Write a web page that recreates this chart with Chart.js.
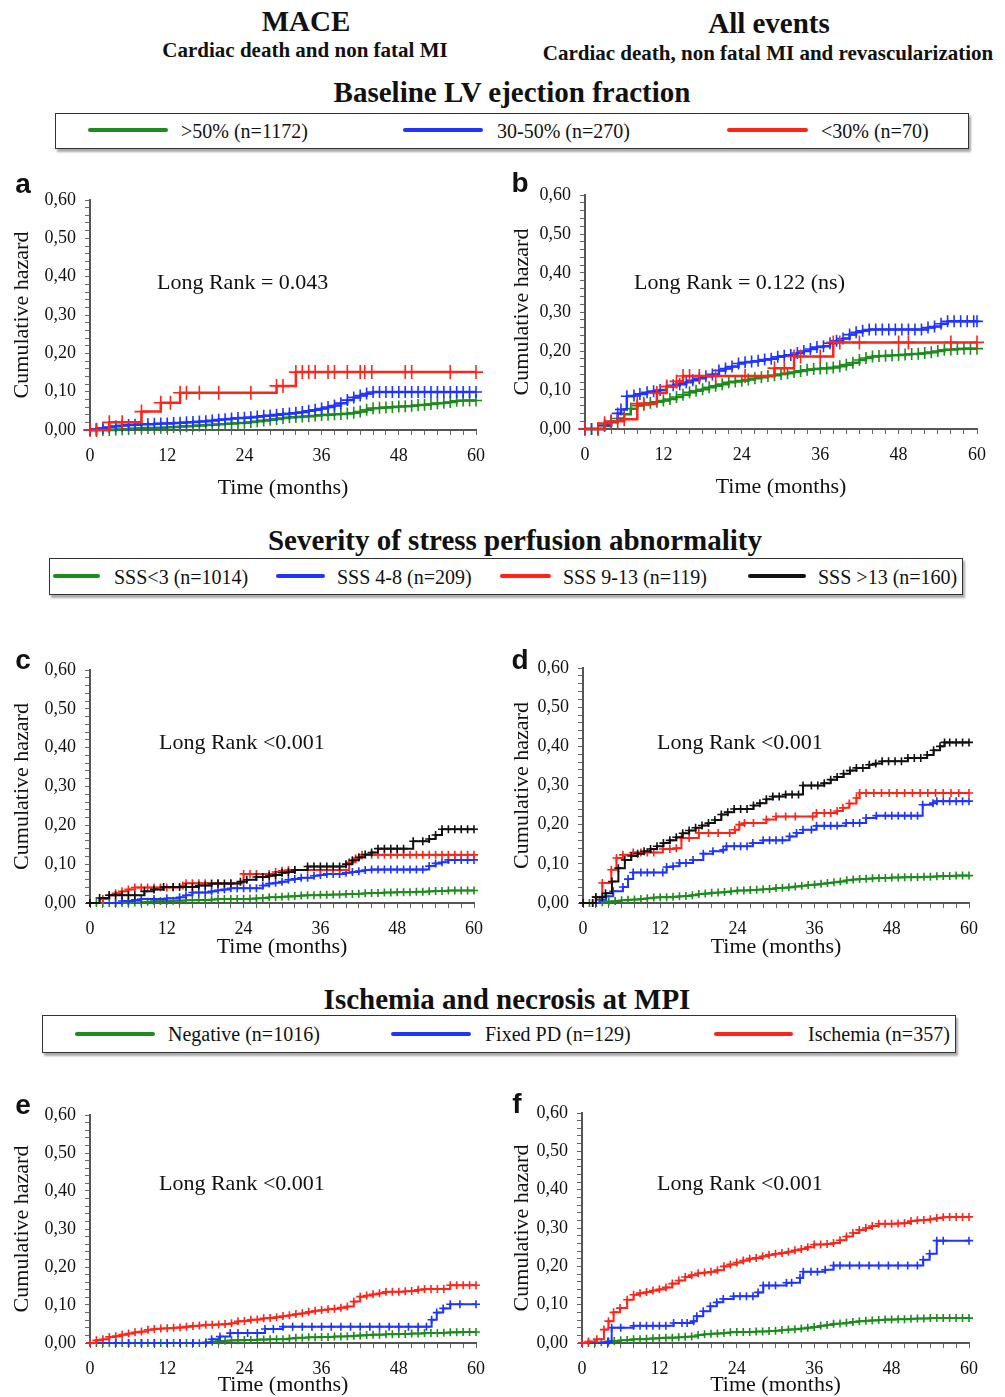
<!DOCTYPE html>
<html>
<head>
<meta charset="utf-8">
<script src="https://cdn.jsdelivr.net/npm/chart.js@4.4.1/dist/chart.umd.min.js"></script>
<style>
  body { margin: 0; background: #fff; }
  #page { position: relative; width: 1005px; height: 1397px; overflow: hidden; font-family: "Liberation Serif", "Times New Roman", serif; color: #111; }
  .t { position: absolute; white-space: nowrap; transform: translate(-50%, -50%); font-weight: bold; }
  .box { position: absolute; border: 1.5px solid #333; box-shadow: 2px 3px 2px #aaa; background: #fff; }
  .key { position: absolute; height: 4px; border-radius: 2px; }
  .ktext { position: absolute; font-size: 20px; transform: translateY(-50%); white-space: nowrap; }
  .letter { position: absolute; font-family: "Liberation Sans", Arial, sans-serif; font-weight: bold; font-size: 28px; transform: translate(-50%, -50%); }
  .rank { position: absolute; font-size: 22px; transform: translateY(-50%); white-space: nowrap; }
  canvas { position: absolute; }
</style>
</head>
<body>
<div id="page">
  <div class="t" style="left:306px;top:21px;font-size:29px">MACE</div>
  <div class="t" style="left:769px;top:23px;font-size:29px">All events</div>
  <div class="t" style="left:305px;top:50px;font-size:21px">Cardiac death and non fatal MI</div>
  <div class="t" style="left:768px;top:53px;font-size:21px">Cardiac death, non fatal MI and revascularization</div>

  <div class="t" style="left:512px;top:92px;font-size:29px">Baseline LV ejection fraction</div>
  <div class="box" style="left:55px;top:113px;width:912px;height:34px"></div>
  <div class="key" style="left:88px;top:128px;width:80px;background:#1c8c1c"></div>
  <div class="ktext" style="left:181px;top:131px">&gt;50% (n=1172)</div>
  <div class="key" style="left:403px;top:128px;width:80px;background:#1f35ff"></div>
  <div class="ktext" style="left:497px;top:131px">30-50% (n=270)</div>
  <div class="key" style="left:727px;top:128px;width:81px;background:#ff2418"></div>
  <div class="ktext" style="left:821px;top:131px">&lt;30% (n=70)</div>

  <div class="t" style="left:515px;top:540px;font-size:29px">Severity of stress perfusion abnormality</div>
  <div class="box" style="left:49px;top:558px;width:912px;height:35px"></div>
  <div class="key" style="left:53px;top:574px;width:47px;background:#1c8c1c"></div>
  <div class="ktext" style="left:114px;top:577px">SSS&lt;3 (n=1014)</div>
  <div class="key" style="left:276px;top:574px;width:49px;background:#1f35ff"></div>
  <div class="ktext" style="left:337px;top:577px">SSS 4-8 (n=209)</div>
  <div class="key" style="left:500px;top:574px;width:51px;background:#ff2418"></div>
  <div class="ktext" style="left:563px;top:577px">SSS 9-13 (n=119)</div>
  <div class="key" style="left:748px;top:574px;width:58px;background:#111"></div>
  <div class="ktext" style="left:818px;top:577px">SSS &gt;13 (n=160)</div>

  <div class="t" style="left:507px;top:999px;font-size:29px">Ischemia and necrosis at MPI</div>
  <div class="box" style="left:42px;top:1015px;width:912px;height:36px"></div>
  <div class="key" style="left:75px;top:1032px;width:80px;background:#1c8c1c"></div>
  <div class="ktext" style="left:168px;top:1034px">Negative (n=1016)</div>
  <div class="key" style="left:391px;top:1032px;width:80px;background:#1f35ff"></div>
  <div class="ktext" style="left:485px;top:1034px">Fixed PD (n=129)</div>
  <div class="key" style="left:714px;top:1032px;width:79px;background:#ff2418"></div>
  <div class="ktext" style="left:808px;top:1034px">Ischemia (n=357)</div>

  <canvas id="chartA" width="500" height="330" style="left:0;top:170px"></canvas>
  <canvas id="chartB" width="505" height="334" style="left:500px;top:165px"></canvas>
  <canvas id="chartC" width="500" height="319" style="left:0;top:640px"></canvas>
  <canvas id="chartD" width="505" height="321" style="left:500px;top:638px"></canvas>
  <canvas id="chartE" width="500" height="312" style="left:0;top:1085px"></canvas>
  <canvas id="chartF" width="505" height="314" style="left:500px;top:1083px"></canvas>

  <div class="letter" style="left:23px;top:184px">a</div>
  <div class="letter" style="left:520px;top:183px">b</div>
  <div class="letter" style="left:23px;top:660px">c</div>
  <div class="letter" style="left:520px;top:660px">d</div>
  <div class="letter" style="left:23px;top:1105px">e</div>
  <div class="letter" style="left:517px;top:1104px">f</div>

  <div class="rank" style="left:157px;top:282px">Long Rank = 0.043</div>
  <div class="rank" style="left:634px;top:282px">Long Rank = 0.122 (ns)</div>
  <div class="rank" style="left:159px;top:742px">Long Rank &lt;0.001</div>
  <div class="rank" style="left:657px;top:742px">Long Rank &lt;0.001</div>
  <div class="rank" style="left:159px;top:1183px">Long Rank &lt;0.001</div>
  <div class="rank" style="left:657px;top:1183px">Long Rank &lt;0.001</div>
</div>

<script>
// tick labels
const xTickLabels = [0, 12, 24, 36, 48, 60];
const yTickLabels = ["0,00", "0,10", "0,20", "0,30", "0,40", "0,50", "0,60"];

// (a) MACE by baseline LVEF  -- [month, cumulative hazard]
const aRed = [[0,0],[1,0],[3,0.02],[5,0.02],[8,0.048],[11,0.071],[12.5,0.071],[14,0.097],[15,0.097],[17,0.097],[20,0.097],[25,0.097],[29,0.115],[30,0.115],[32,0.151],[33,0.151],[34,0.151],[35,0.151],[37,0.151],[38,0.151],[40,0.151],[42,0.151],[42.7,0.151],[43.8,0.151],[49,0.151],[50,0.151],[56,0.151],[60,0.151]];
const aBlue = [[0,0],[1,0.003],[2,0.005],[3,0.008],[4,0.01],[5,0.012],[6,0.013],[7,0.014],[8,0.015],[9,0.015],[10,0.016],[11,0.017],[12,0.017],[13,0.018],[14,0.019],[15,0.02],[16,0.021],[17,0.022],[18,0.023],[19,0.025],[20,0.027],[21,0.028],[22,0.03],[23,0.031],[24,0.032],[25,0.033],[26,0.035],[27,0.037],[28,0.038],[29,0.04],[30,0.042],[31,0.043],[32,0.045],[33,0.047],[34,0.05],[35,0.053],[36,0.056],[37,0.06],[38,0.064],[39,0.07],[40,0.078],[41,0.085],[42,0.09],[43,0.095],[44,0.099],[45,0.099],[46,0.099],[47,0.099],[48,0.099],[49,0.099],[50,0.099],[51,0.099],[52,0.099],[53,0.099],[54,0.099],[55,0.099],[56,0.099],[57,0.099],[58,0.099],[59,0.099],[60,0.099]];
const aGreen = [[0,0],[1,0],[2,0],[3,0],[4,0.001],[5,0.002],[6,0.003],[7,0.004],[8,0.005],[9,0.005],[10,0.006],[11,0.006],[12,0.007],[13,0.008],[14,0.009],[15,0.01],[16,0.011],[17,0.012],[18,0.013],[19,0.014],[20,0.015],[21,0.016],[22,0.017],[23,0.018],[24,0.019],[25,0.021],[26,0.023],[27,0.025],[28,0.027],[29,0.029],[30,0.031],[31,0.033],[32,0.034],[33,0.035],[34,0.036],[35,0.038],[36,0.039],[37,0.04],[38,0.041],[39,0.042],[40,0.043],[41,0.045],[42,0.048],[43,0.053],[44,0.057],[45,0.058],[46,0.059],[47,0.06],[48,0.061],[49,0.062],[50,0.063],[51,0.065],[52,0.066],[53,0.068],[54,0.07],[55,0.071],[56,0.073],[57,0.076],[58,0.077],[59,0.077],[60,0.077]];

// (b) all events by baseline LVEF
const bRed = [[0,0],[2,0],[3,0.015],[4,0.02],[5,0.02],[6,0.025],[8,0.065],[9,0.065],[11,0.092],[12.5,0.109],[14,0.122],[15,0.136],[16,0.136],[17.5,0.136],[20,0.136],[24.5,0.136],[29,0.156],[30.5,0.156],[32,0.186],[33,0.186],[36,0.186],[38,0.222],[39,0.222],[42,0.222],[48,0.222],[49.5,0.222],[56,0.222],[60,0.222]];
const bBlue = [[0,0],[1,0],[2,0],[3,0.01],[4,0.02],[5,0.04],[5.5,0.05],[6.4,0.084],[7.5,0.086],[8.4,0.09],[9.5,0.094],[10.5,0.097],[11.5,0.1],[12.5,0.109],[13.5,0.112],[14.5,0.115],[15.5,0.12],[16.5,0.125],[17.5,0.13],[18.5,0.135],[19.5,0.14],[20.5,0.15],[21.5,0.155],[22.5,0.16],[23.5,0.168],[24.5,0.171],[25.5,0.173],[26.5,0.175],[27.5,0.178],[28.5,0.18],[29.5,0.185],[30.5,0.188],[31.5,0.19],[32.5,0.195],[33.5,0.2],[34.5,0.205],[35.5,0.21],[36.5,0.212],[37.5,0.22],[38.5,0.226],[39.5,0.232],[40.5,0.242],[41.5,0.248],[42.5,0.252],[43.5,0.255],[44.5,0.255],[45.5,0.255],[46.5,0.255],[47.5,0.255],[48.5,0.255],[49.5,0.255],[50.5,0.255],[51.5,0.255],[52.5,0.26],[53.5,0.263],[54.5,0.27],[55.5,0.276],[56.5,0.276],[57.5,0.276],[58.5,0.276],[59.5,0.276],[60,0.276]];
const bGreen = [[0,0],[1,0],[2,0],[3,0.008],[4,0.017],[5,0.027],[6,0.038],[7,0.052],[8,0.06],[9,0.063],[10,0.067],[11,0.07],[12,0.073],[13,0.077],[14,0.082],[15,0.088],[16,0.094],[17,0.098],[18,0.102],[19,0.107],[20,0.111],[21,0.115],[22,0.12],[23,0.122],[24,0.124],[25,0.127],[26,0.13],[27,0.133],[28,0.136],[29,0.138],[30,0.141],[31,0.143],[32,0.146],[33,0.149],[34,0.152],[35,0.154],[36,0.155],[37,0.156],[38,0.158],[39,0.161],[40,0.165],[41,0.17],[42,0.177],[43,0.182],[44,0.186],[45,0.187],[46,0.188],[47,0.189],[48,0.19],[49,0.191],[50,0.192],[51,0.193],[52,0.195],[53,0.197],[54,0.2],[55,0.203],[56,0.204],[57,0.205],[58,0.206],[59,0.206],[60,0.206]];

// (c) MACE by SSS
const cBlack = [[0,0],[1.5,0.013],[3,0.02],[4,0.02],[5,0.02],[6,0.02],[7,0.02],[8.5,0.03],[10,0.035],[11.5,0.041],[13,0.041],[14,0.041],[15,0.041],[16,0.041],[17,0.045],[18,0.045],[19,0.05],[20,0.05],[21,0.05],[22,0.05],[23.5,0.055],[24.5,0.06],[26,0.067],[27,0.067],[28,0.07],[29,0.072],[30,0.078],[31,0.08],[32,0.085],[34,0.094],[35,0.094],[36,0.094],[37,0.094],[38,0.094],[39,0.094],[40,0.1],[41,0.11],[42,0.118],[43,0.125],[44,0.13],[45,0.14],[46,0.14],[47,0.14],[48,0.14],[49,0.14],[50.5,0.159],[52,0.159],[53,0.165],[54,0.175],[55,0.19],[56,0.19],[57,0.19],[58,0.19],[59,0.19],[60,0.19]];
const cRed = [[0,0],[2,0.01],[3,0.02],[4,0.025],[5,0.03],[6,0.035],[7,0.04],[8,0.04],[9,0.04],[10,0.04],[11,0.04],[12,0.04],[13,0.04],[14.5,0.045],[15,0.051],[16,0.051],[17,0.051],[18,0.051],[20,0.051],[22,0.051],[24,0.075],[25,0.075],[26,0.075],[28,0.075],[29,0.08],[30,0.083],[31,0.085],[32,0.085],[34,0.085],[36,0.085],[38,0.085],[39,0.085],[40.5,0.105],[41.5,0.115],[42.5,0.124],[44,0.124],[45,0.124],[46,0.124],[47,0.124],[48,0.124],[49,0.124],[50,0.124],[51,0.124],[52,0.124],[53,0.124],[54,0.124],[55,0.124],[56,0.124],[57,0.124],[58,0.124],[59,0.124],[60,0.124]];
const cBlue = [[0,0],[4,0],[5,0.005],[6,0.005],[7,0.008],[8,0.01],[10,0.01],[12,0.012],[14,0.015],[15,0.02],[16,0.027],[17,0.027],[18,0.027],[19,0.03],[20,0.033],[21,0.035],[22,0.038],[23,0.038],[24,0.038],[25,0.038],[26,0.038],[27,0.045],[28,0.05],[29,0.052],[30,0.055],[31,0.06],[32,0.062],[33,0.065],[34,0.065],[35,0.07],[36,0.072],[37,0.075],[38,0.075],[39,0.075],[40,0.078],[41,0.08],[42,0.082],[43,0.085],[44,0.086],[45,0.086],[46,0.086],[47,0.086],[48,0.086],[49,0.086],[50,0.086],[51,0.086],[52,0.086],[53,0.095],[54,0.102],[55,0.105],[56,0.111],[57,0.111],[58,0.111],[59,0.111],[60,0.111]];
const cGreen = [[0,0],[1,0],[2,0],[3,0],[4,0],[5,0],[6,0],[7,0.001],[8,0.002],[9,0.003],[10,0.005],[11,0.005],[12,0.005],[13,0.006],[14,0.006],[15,0.007],[16,0.007],[17,0.008],[18,0.008],[19,0.009],[20,0.01],[21,0.01],[22,0.01],[23,0.01],[24,0.01],[25,0.011],[26,0.012],[27,0.013],[28,0.015],[29,0.015],[30,0.016],[31,0.017],[32,0.018],[33,0.019],[34,0.02],[35,0.02],[36,0.021],[37,0.021],[38,0.022],[39,0.022],[40,0.023],[41,0.023],[42,0.024],[43,0.025],[44,0.026],[45,0.026],[46,0.027],[47,0.027],[48,0.028],[49,0.028],[50,0.028],[51,0.029],[52,0.029],[53,0.03],[54,0.031],[55,0.031],[56,0.032],[57,0.032],[58,0.032],[59,0.032],[60,0.032]];

// (d) all events by SSS
const dBlack = [[0,0],[1.5,0],[2,0.015],[3,0.015],[3.5,0.025],[4.5,0.055],[5.5,0.089],[6.5,0.11],[7.5,0.12],[8.5,0.126],[9.5,0.132],[10.5,0.138],[11.5,0.145],[12.5,0.153],[13.5,0.16],[14.5,0.168],[15.5,0.178],[16.5,0.185],[17.5,0.192],[18.5,0.198],[19.5,0.204],[20.5,0.212],[21.5,0.226],[22.5,0.232],[23.5,0.24],[24.5,0.24],[25.5,0.24],[26.5,0.249],[27.5,0.255],[28.5,0.265],[29.5,0.272],[30.5,0.272],[31.5,0.277],[32.5,0.277],[33.5,0.277],[34.2,0.3],[35.5,0.3],[36.5,0.3],[37.5,0.306],[38.5,0.315],[39.5,0.322],[40.5,0.33],[41.5,0.338],[42.5,0.345],[43.5,0.345],[44.5,0.353],[45.5,0.356],[46.5,0.362],[47.5,0.362],[48.5,0.362],[49.5,0.362],[50.5,0.37],[51.5,0.37],[52.5,0.37],[53.5,0.378],[54.5,0.39],[55.5,0.4],[56.2,0.41],[57,0.41],[58,0.41],[59,0.41],[60,0.41]];
const dRed = [[0,0],[1.5,0],[2,0.015],[3,0.051],[4.4,0.085],[5.2,0.115],[6.2,0.123],[7.8,0.129],[9,0.129],[10,0.129],[11,0.129],[12.4,0.138],[13.5,0.138],[14.5,0.14],[15.3,0.166],[16.5,0.166],[18,0.179],[19.5,0.179],[21,0.179],[22.8,0.179],[23.6,0.187],[24.3,0.2],[25.1,0.204],[26.5,0.204],[28.5,0.213],[30,0.221],[31.5,0.221],[33,0.221],[35.7,0.221],[36.3,0.23],[37.5,0.23],[38.5,0.23],[39.5,0.235],[40.4,0.243],[41.4,0.254],[42.5,0.268],[43,0.281],[44,0.281],[45.2,0.281],[46.4,0.281],[47.6,0.281],[48.8,0.281],[50,0.281],[51.2,0.281],[52.4,0.281],[53.6,0.281],[54.8,0.281],[56,0.281],[57.2,0.281],[58.4,0.281],[60,0.281]];
const dBlue = [[0,0],[2,0],[2.6,0.008],[3.6,0.017],[4.7,0.03],[6.2,0.041],[7,0.061],[7.8,0.078],[9,0.078],[10,0.078],[11,0.078],[12.4,0.078],[13,0.092],[14,0.094],[15,0.102],[16,0.102],[17.1,0.11],[18.7,0.126],[20.2,0.132],[21.8,0.136],[22.3,0.145],[23.5,0.145],[24.5,0.145],[25.5,0.145],[26.4,0.153],[28,0.16],[29,0.16],[30,0.16],[31,0.16],[32.1,0.17],[33.2,0.179],[34.2,0.187],[35.5,0.187],[36.3,0.197],[37.5,0.197],[38.5,0.197],[39.5,0.197],[40.9,0.204],[42,0.204],[43,0.204],[44,0.217],[45.6,0.223],[47,0.223],[48,0.223],[49,0.223],[50,0.223],[51,0.223],[52,0.223],[52.8,0.251],[54.4,0.255],[55,0.26],[56,0.26],[57,0.26],[58,0.26],[59,0.26],[60,0.26]];
const dGreen = [[0,0],[1,0],[2,0],[3,0.002],[4,0.004],[5,0.005],[6,0.007],[7,0.008],[8,0.009],[9,0.01],[10,0.012],[11,0.014],[12,0.015],[13,0.015],[14,0.016],[15,0.017],[16,0.018],[17,0.02],[18,0.023],[19,0.024],[20,0.026],[21,0.027],[22,0.028],[23,0.03],[24,0.032],[25,0.032],[26,0.033],[27,0.034],[28,0.035],[29,0.036],[30,0.038],[31,0.039],[32,0.04],[33,0.042],[34,0.044],[35,0.046],[36,0.047],[37,0.049],[38,0.051],[39,0.053],[40,0.055],[41,0.058],[42,0.06],[43,0.061],[44,0.062],[45,0.063],[46,0.064],[47,0.064],[48,0.065],[49,0.065],[50,0.066],[51,0.066],[52,0.066],[53,0.067],[54,0.067],[55,0.068],[56,0.069],[57,0.069],[58,0.07],[59,0.07],[60,0.07]];

// (e) MACE by ischemia / necrosis
const eRed = [[0,0],[1,0.007],[2,0.01],[3,0.016],[4,0.018],[5,0.022],[6,0.025],[7,0.028],[8,0.03],[9,0.035],[10,0.037],[11,0.038],[12,0.039],[13,0.04],[14,0.041],[15,0.043],[16,0.045],[17,0.046],[18,0.048],[19,0.048],[20,0.049],[21,0.05],[22,0.052],[23,0.057],[24,0.058],[25,0.061],[26,0.062],[27,0.065],[28,0.066],[29,0.068],[30,0.071],[31,0.073],[32,0.076],[33,0.078],[34,0.082],[35,0.085],[36,0.087],[37,0.089],[38,0.09],[39,0.093],[40,0.096],[41,0.109],[42,0.122],[43,0.125],[44,0.128],[45,0.131],[46,0.135],[47,0.135],[48,0.135],[49,0.136],[50,0.137],[51,0.14],[52,0.142],[53,0.142],[54,0.142],[55,0.142],[56,0.152],[57,0.152],[58,0.152],[59,0.152],[60,0.152]];
const eBlue = [[0,0],[4,0],[6,0],[8,0],[10,0],[12,0],[14,0],[16,0],[18,0],[18.9,0.01],[20.2,0.017],[21.8,0.026],[23,0.026],[24.5,0.026],[26,0.026],[27.2,0.037],[28.5,0.037],[30,0.043],[31.5,0.043],[33,0.043],[34.5,0.043],[36,0.043],[37.5,0.043],[39,0.043],[40.5,0.043],[42,0.043],[43.5,0.043],[45,0.043],[46.5,0.043],[48,0.043],[49.5,0.043],[51,0.043],[52.3,0.043],[53.1,0.061],[53.9,0.08],[54.9,0.091],[56,0.102],[57.5,0.102],[60,0.102]];
const eGreen = [[0,0],[1,0],[2,0],[3,0],[4,0],[5,0],[6,0],[7,0],[8,0],[9,0],[10,0],[11,0],[12,0],[13,0],[14,0],[15,0],[16,0],[17,0],[18,0.002],[19,0.003],[20,0.005],[21,0.006],[22,0.007],[23,0.007],[24,0.008],[25,0.008],[26,0.009],[27,0.009],[28,0.01],[29,0.01],[30,0.01],[31,0.012],[32,0.014],[33,0.014],[34,0.015],[35,0.015],[36,0.016],[37,0.016],[38,0.017],[39,0.017],[40,0.018],[41,0.019],[42,0.02],[43,0.021],[44,0.022],[45,0.022],[46,0.023],[47,0.023],[48,0.024],[49,0.024],[50,0.025],[51,0.025],[52,0.026],[53,0.026],[54,0.026],[55,0.027],[56,0.028],[57,0.028],[58,0.029],[59,0.029],[60,0.029]];

// (f) all events by ischemia / necrosis
const fRed = [[0,0],[1,0.004],[2.3,0.01],[3.4,0.035],[4.1,0.057],[4.9,0.08],[5.9,0.091],[7,0.113],[8,0.126],[9,0.13],[10,0.133],[11,0.137],[12,0.14],[13,0.145],[14,0.155],[15,0.163],[16,0.172],[17,0.177],[18,0.182],[19,0.184],[20,0.186],[21,0.19],[22,0.2],[23,0.205],[24,0.21],[25,0.215],[26,0.22],[27,0.222],[28,0.226],[29,0.23],[30,0.233],[31,0.235],[32,0.238],[33,0.242],[34,0.245],[35,0.25],[36,0.257],[37,0.257],[38,0.258],[39,0.261],[40,0.268],[41,0.278],[42,0.287],[43,0.295],[44,0.3],[45,0.305],[46,0.311],[47,0.311],[48,0.311],[49,0.312],[50,0.313],[51,0.318],[52,0.32],[53,0.321],[54,0.323],[55,0.326],[56,0.328],[57,0.329],[58,0.329],[59,0.329],[60,0.329]];
const fBlue = [[0,0],[4,0],[4.1,0.004],[4.6,0.04],[6,0.04],[8,0.045],[9,0.045],[10,0.045],[11,0.045],[12,0.045],[13,0.045],[14.2,0.052],[15.5,0.052],[16.3,0.052],[17.3,0.057],[17.8,0.07],[18.8,0.083],[19.9,0.096],[20.9,0.106],[21.9,0.115],[23.5,0.122],[24.5,0.122],[25.5,0.122],[26.5,0.122],[27.3,0.132],[28.1,0.15],[29,0.15],[30,0.15],[31.7,0.157],[32.5,0.157],[33.8,0.17],[34.3,0.186],[35.5,0.186],[36.5,0.186],[37.7,0.191],[39,0.202],[40,0.202],[41.5,0.202],[43,0.202],[44.5,0.202],[46,0.202],[47.5,0.202],[49,0.202],[50.5,0.202],[52,0.202],[52.9,0.217],[53.9,0.233],[55,0.267],[56,0.267],[60,0.267]];
const fGreen = [[0,0],[1,0],[2,0],[3,0.002],[4,0.004],[5,0.005],[6,0.007],[7,0.008],[8,0.01],[9,0.01],[10,0.011],[11,0.012],[12,0.013],[13,0.014],[14,0.014],[15,0.015],[16,0.016],[17,0.017],[18,0.021],[19,0.023],[20,0.024],[21,0.025],[22,0.026],[23,0.028],[24,0.029],[25,0.029],[26,0.029],[27,0.03],[28,0.03],[29,0.031],[30,0.032],[31,0.034],[32,0.035],[33,0.036],[34,0.038],[35,0.04],[36,0.042],[37,0.045],[38,0.047],[39,0.05],[40,0.051],[41,0.053],[42,0.055],[43,0.057],[44,0.058],[45,0.059],[46,0.06],[47,0.061],[48,0.061],[49,0.062],[50,0.062],[51,0.063],[52,0.064],[53,0.064],[54,0.065],[55,0.065],[56,0.065],[57,0.065],[58,0.065],[59,0.065],[60,0.065]];

const GREEN = "#1c8c1c";
const BLUE = "#1f35ff";
const RED = "#ff2418";
const BLACK = "#111111";
const SERIF = "'Liberation Serif', 'Times New Roman', serif";

function series(points, color, radius, lineWidth) {
  return {
    data: points.map(([x, y]) => ({ x, y })),
    borderColor: color,
    pointBorderColor: color,
    backgroundColor: color,
    borderWidth: lineWidth,
    pointStyle: "cross",
    pointRadius: radius,
    pointBorderWidth: 1.6,
    stepped: true,
    fill: false,
    clip: false
  };
}

function buildChart(id, box, datasets) {
  new Chart(document.getElementById(id), {
    type: "line",
    data: { datasets },
    options: {
      responsive: false,
      animation: false,
      events: [],
      layout: { padding: { top: box.padTop, left: 10, right: box.padRight, bottom: 0 } },
      plugins: { legend: { display: false }, tooltip: { enabled: false } },
      scales: {
        x: {
          type: "linear",
          min: 0,
          max: 60,
          afterFit(scale) { scale.height = box.xHeight; },
          border: { color: "#555", width: 2 },
          grid: { drawOnChartArea: false, tickLength: 5, color: "#666" },
          ticks: {
            stepSize: 2,
            autoSkip: false,
            maxRotation: 0,
            padding: 10,
            color: "#111",
            font: { family: SERIF, size: 18 },
            callback(value) {
              return xTickLabels.includes(value) ? String(value) : "";
            }
          },
          title: {
            display: true,
            text: "Time (months)",
            color: "#111",
            padding: 0,
            font: { family: SERIF, size: 22, lineHeight: 1.1 }
          }
        },
        y: {
          min: 0,
          max: 0.6,
          afterFit(scale) { scale.width = box.yWidth; },
          border: { color: "#555", width: 2 },
          grid: { drawOnChartArea: false, tickLength: 5, color: "#666" },
          ticks: {
            stepSize: 0.02,
            autoSkip: false,
            padding: 9,
            color: "#111",
            font: { family: SERIF, size: 18 },
            callback(value) {
              const hundredths = Math.round(value * 100);
              return hundredths % 10 === 0 ? yTickLabels[hundredths / 10] : "";
            }
          },
          title: {
            display: true,
            text: "Cumulative hazard",
            color: "#111",
            padding: 0,
            font: { family: SERIF, size: 22, lineHeight: 1.1 }
          }
        }
      }
    }
  });
}

buildChart("chartA", { padTop: 30, padRight: 24, yWidth: 80, xHeight: 70 }, [
  series(aRed, RED, 7, 2.5),
  series(aBlue, BLUE, 6, 2.5),
  series(aGreen, GREEN, 6, 2.5)
]);
buildChart("chartB", { padTop: 30, padRight: 28, yWidth: 75, xHeight: 70 }, [
  series(bRed, RED, 7, 2.5),
  series(bBlue, BLUE, 6, 2.5),
  series(bGreen, GREEN, 6, 2.5)
]);
buildChart("chartC", { padTop: 30, padRight: 26, yWidth: 80, xHeight: 56 }, [
  series(cBlack, BLACK, 4, 2),
  series(cRed, RED, 4, 2),
  series(cBlue, BLUE, 4, 2),
  series(cGreen, GREEN, 4, 2)
]);
buildChart("chartD", { padTop: 30, padRight: 36, yWidth: 73, xHeight: 56 }, [
  series(dBlack, BLACK, 4, 2),
  series(dRed, RED, 4, 2),
  series(dBlue, BLUE, 4, 2),
  series(dGreen, GREEN, 4, 2)
]);
buildChart("chartE", { padTop: 30, padRight: 24, yWidth: 80, xHeight: 54 }, [
  series(eRed, RED, 4, 2),
  series(eBlue, BLUE, 4, 2),
  series(eGreen, GREEN, 4, 2)
]);
buildChart("chartF", { padTop: 30, padRight: 36, yWidth: 72, xHeight: 54 }, [
  series(fRed, RED, 4, 2),
  series(fBlue, BLUE, 4, 2),
  series(fGreen, GREEN, 4, 2)
]);
</script>
</body>
</html>
